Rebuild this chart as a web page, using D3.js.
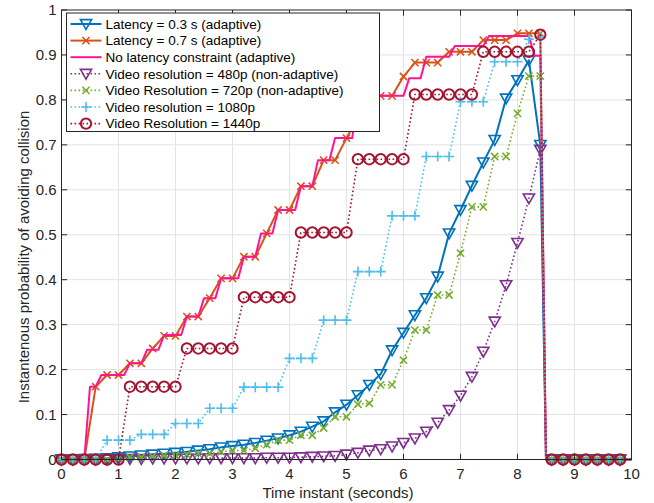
<!DOCTYPE html>
<html>
<head>
<meta charset="utf-8">
<script src="https://cdn.jsdelivr.net/npm/d3@7"></script>
<style>
  body { margin: 0; background: #fff; }
  svg { display: block; font-family: "Liberation Sans", Arial, Helvetica, sans-serif; }
</style>
</head>
<body>
<div id="chart"></div>
<script>
// Sample instants (s): one every 0.2 s, the drop at 8.5 s, then zeros up to 10 s
var times = [0, 0.2, 0.4, 0.6, 0.8, 1.0, 1.2, 1.4, 1.6, 1.8, 2.0, 2.2, 2.4, 2.6, 2.8, 3.0,
    3.2, 3.4, 3.6, 3.8, 4.0, 4.2, 4.4, 4.6, 4.8, 5.0, 5.2, 5.4, 5.6, 5.8, 6.0, 6.2, 6.4, 6.6,
    6.8, 7.0, 7.2, 7.4, 7.6, 7.8, 8.0, 8.2, 8.4, 8.5, 8.6, 8.8, 9.0, 9.2, 9.4, 9.6, 9.8, 10];
// instants that are drawn as line only (no marker)
var noMarkerTimes = [8.5, 10];

var latency03 = [0, 0, 0.001, 0.002, 0.003, 0.005, 0.007, 0.009, 0.011, 0.013, 0.015, 0.017,
    0.020, 0.023, 0.027, 0.030, 0.033, 0.037, 0.042, 0.047, 0.054, 0.062, 0.073, 0.085, 0.105,
    0.122, 0.143, 0.166, 0.190, 0.243, 0.282, 0.321, 0.359, 0.407, 0.503, 0.555, 0.609, 0.661,
    0.711, 0.803, 0.844, 0.888, 0.700, 0, 0, 0, 0, 0, 0, 0, 0, 0];
var latency07 = [0, 0, 0, 0.162, 0.188, 0.188, 0.214, 0.214, 0.247, 0.275, 0.275, 0.318,
    0.318, 0.359, 0.403, 0.403, 0.451, 0.451, 0.503, 0.555, 0.555, 0.608, 0.608, 0.666, 0.666,
    0.715, 0.760, 0.809, 0.809, 0.809, 0.852, 0.883, 0.883, 0.883, 0.907, 0.907, 0.907, 0.933,
    0.933, 0.933, 0.948, 0.948, 0.948, 0, 0, 0, 0, 0, 0, 0, 0, 0];
var res480 = [0, 0, 0, 0, 0, 0.001, 0.001, 0.001, 0.002, 0.002, 0.002, 0.002, 0.002, 0.003,
    0.003, 0.003, 0.003, 0.003, 0.004, 0.004, 0.004, 0.005, 0.006, 0.007, 0.008, 0.011, 0.015,
    0.020, 0.023, 0.029, 0.037, 0.047, 0.062, 0.082, 0.110, 0.142, 0.184, 0.240, 0.307, 0.388,
    0.482, 0.581, 0.689, 0, 0, 0, 0, 0, 0, 0, 0, 0];
var res720 = [0, 0, 0, 0, 0, 0.003, 0.005, 0.005, 0.007, 0.009, 0.009, 0.011, 0.013, 0.013,
    0.017, 0.020, 0.020, 0.025, 0.033, 0.043, 0.043, 0.054, 0.054, 0.070, 0.095, 0.095, 0.123,
    0.125, 0.166, 0.166, 0.221, 0.288, 0.288, 0.366, 0.366, 0.459, 0.562, 0.562, 0.674, 0.674,
    0.770, 0.853, 0.853, 0, 0, 0, 0, 0, 0, 0, 0, 0];
var res1080 = [0, 0, 0, 0, 0.043, 0.043, 0.043, 0.056, 0.056, 0.056, 0.080, 0.080, 0.080,
    0.114, 0.114, 0.114, 0.161, 0.161, 0.161, 0.161, 0.225, 0.225, 0.225, 0.310, 0.310, 0.310,
    0.418, 0.418, 0.418, 0.542, 0.542, 0.542, 0.674, 0.674, 0.674, 0.796, 0.796, 0.796, 0.885,
    0.885, 0.885, 0.935, 0.940, 0, 0, 0, 0, 0, 0, 0, 0, 0];
var res1440 = [0, 0, 0, 0, 0, 0, 0.162, 0.162, 0.162, 0.162, 0.162, 0.247, 0.247, 0.247,
    0.247, 0.247, 0.361, 0.361, 0.361, 0.361, 0.361, 0.505, 0.505, 0.505, 0.505, 0.505, 0.668,
    0.668, 0.668, 0.668, 0.668, 0.812, 0.812, 0.812, 0.812, 0.812, 0.812, 0.907, 0.907, 0.907,
    0.907, 0.907, 0.945, 0, 0, 0, 0, 0, 0, 0, 0, 0];

// "No latency constraint" has no markers: corners of its staircase
var noLimitTimes = [0, 0.4, 0.5, 0.6, 0.7, 1.1, 1.2, 1.4, 1.5, 1.7, 1.8, 2.1, 2.2, 2.4, 2.5,
    2.7, 2.8, 3.1, 3.2, 3.4, 3.5, 3.7, 3.8, 4.1, 4.2, 4.4, 4.5, 4.7, 4.8, 5.1, 5.2, 6.0, 6.1,
    6.3, 6.4, 6.8, 6.9, 7.4, 7.5, 8.2, 8.3, 8.4, 8.5, 10];
var noLimitValues = [0, 0, 0.162, 0.162, 0.188, 0.188, 0.214, 0.214, 0.244, 0.244, 0.277,
    0.277, 0.318, 0.318, 0.359, 0.359, 0.403, 0.403, 0.451, 0.451, 0.503, 0.503, 0.555, 0.555,
    0.608, 0.608, 0.666, 0.666, 0.715, 0.715, 0.809, 0.809, 0.848, 0.848, 0.896, 0.896, 0.920,
    0.920, 0.942, 0.942, 0.898, 0.898, 0, 0];

var legendLabels = ["Latency = 0.3 s (adaptive)", "Latency = 0.7 s (adaptive)",
    "No latency constraint (adaptive)", "Video resolution = 480p (non-adaptive)",
    "Video Resolution = 720p (non-adaptive)", "Video resolution = 1080p",
    "Video Resolution = 1440p"];
var xTicks = [0, 1, 2, 3, 4, 5, 6, 7, 8, 9, 10];
var yTicks = [0, 0.1, 0.2, 0.3, 0.4, 0.5, 0.6, 0.7, 0.8, 0.9, 1];

var series = [
    { label: legendLabels[0], t: times, v: latency03, color: "#0072BD", dash: null, marker: "tri" },
    { label: legendLabels[1], t: times, v: latency07, color: "#D95319", dash: null, marker: "x" },
    { label: legendLabels[2], t: noLimitTimes, v: noLimitValues, color: "#FF1493", dash: null, marker: null },
    { label: legendLabels[3], t: times, v: res480, color: "#7E2F8E", dash: "1.6,2.4", marker: "tri" },
    { label: legendLabels[4], t: times, v: res720, color: "#77AC30", dash: "1.6,2.4", marker: "x" },
    { label: legendLabels[5], t: times, v: res1080, color: "#4DBEEE", dash: "1.6,2.4", marker: "plus" },
    { label: legendLabels[6], t: times, v: res1440, color: "#A2142F", dash: "1.6,2.4", marker: "circle" }
];

var W = 654, H = 503;
var plot = { left: 61.5, right: 631.5, top: 10, bottom: 459.5 };

var svg = d3.select("#chart").append("svg")
    .attr("width", W)
    .attr("height", H);

var x = d3.scaleLinear().domain([0, 10]).range([plot.left, plot.right]);
var y = d3.scaleLinear().domain([0, 1]).range([plot.bottom, plot.top]);

// Grid lines
svg.append("g").selectAll("line")
    .data(xTicks.slice(1, -1))
    .enter().append("line")
    .attr("x1", d => x(d)).attr("x2", d => x(d))
    .attr("y1", plot.top).attr("y2", plot.bottom)
    .attr("stroke", "#e3e3e3").attr("stroke-width", 1);
svg.append("g").selectAll("line")
    .data(yTicks.slice(1, -1))
    .enter().append("line")
    .attr("x1", plot.left).attr("x2", plot.right)
    .attr("y1", d => y(d)).attr("y2", d => y(d))
    .attr("stroke", "#e3e3e3").attr("stroke-width", 1);

// Marker shapes
function markerPath(kind) {
    if (kind === "tri") return "M-5.6,-4.4L5.6,-4.4L0,5.4Z";
    if (kind === "x") return "M-3.6,-3.6L3.6,3.6M-3.6,3.6L3.6,-3.6";
    if (kind === "plus") return "M-5,0L5,0M0,-5L0,5";
    if (kind === "circle") return "M5.2,0A5.2,5.2 0 1 1 -5.2,0A5.2,5.2 0 1 1 5.2,0Z";
    return "";
}

var line = d3.line()
    .x(d => x(d[0]))
    .y(d => y(d[1]));

// Draw each series: line then markers
series.forEach(function(s) {
    var pts = s.t.map((t, i) => [t, s.v[i]]);
    var g = svg.append("g");
    g.append("path")
        .datum(pts)
        .attr("d", line)
        .attr("fill", "none")
        .attr("stroke", s.color)
        .attr("stroke-width", s.dash ? 1.6 : 2)
        .attr("stroke-dasharray", s.dash)
        .attr("stroke-linejoin", "round");
    if (s.marker) {
        g.selectAll("path.mk")
            .data(pts.filter(d => noMarkerTimes.indexOf(d[0]) < 0))
            .enter().append("path")
            .attr("class", "mk")
            .attr("d", markerPath(s.marker))
            .attr("transform", d => "translate(" + x(d[0]) + "," + y(d[1]) + ")")
            .attr("fill", "none")
            .attr("stroke", s.color)
            .attr("stroke-width", s.marker === "circle" ? 2 : 1.6);
    }
});

// Axes box with inward ticks on all four sides
var axisColor = "#262626";
var tickLen = 5.7;
svg.append("rect")
    .attr("x", plot.left).attr("y", plot.top)
    .attr("width", plot.right - plot.left).attr("height", plot.bottom - plot.top)
    .attr("fill", "none").attr("stroke", axisColor).attr("stroke-width", 1);

var ticks = svg.append("g").attr("stroke", axisColor).attr("stroke-width", 1);
xTicks.forEach(function(d) {
    ticks.append("line").attr("x1", x(d)).attr("x2", x(d)).attr("y1", plot.bottom).attr("y2", plot.bottom - tickLen);
    ticks.append("line").attr("x1", x(d)).attr("x2", x(d)).attr("y1", plot.top).attr("y2", plot.top + tickLen);
});
yTicks.forEach(function(d) {
    ticks.append("line").attr("y1", y(d)).attr("y2", y(d)).attr("x1", plot.left).attr("x2", plot.left + tickLen);
    ticks.append("line").attr("y1", y(d)).attr("y2", y(d)).attr("x1", plot.right).attr("x2", plot.right - tickLen);
});

// Tick labels
svg.append("g").selectAll("text")
    .data(xTicks)
    .enter().append("text")
    .attr("x", d => x(d))
    .attr("y", plot.bottom + 19)
    .attr("text-anchor", "middle")
    .attr("font-size", "15px")
    .attr("fill", axisColor)
    .text(d => d);
svg.append("g").selectAll("text")
    .data(yTicks)
    .enter().append("text")
    .attr("x", plot.left - 5)
    .attr("y", d => y(d) + 5)
    .attr("text-anchor", "end")
    .attr("font-size", "15px")
    .attr("fill", axisColor)
    .text(d => d);

// Axis labels (placed where the reference has them, a bit off-centre)
svg.append("text")
    .attr("x", 338)
    .attr("y", plot.bottom + 38)
    .attr("text-anchor", "middle")
    .attr("font-size", "15px")
    .attr("fill", axisColor)
    .text("Time instant (seconds)");
svg.append("text")
    .attr("transform", "translate(29,257) rotate(-90)")
    .attr("text-anchor", "middle")
    .attr("font-size", "15px")
    .attr("fill", axisColor)
    .text("Instantenous probability of avoiding collision");

// Legend
var legend = svg.append("g").attr("transform", "translate(66.5,13)");
legend.append("rect")
    .attr("width", 313).attr("height", 118.5)
    .attr("fill", "#fff").attr("stroke", axisColor).attr("stroke-width", 1);
series.forEach(function(s, i) {
    var cy = 11 + i * 16.6;
    legend.append("line")
        .attr("x1", 4).attr("x2", 35).attr("y1", cy).attr("y2", cy)
        .attr("stroke", s.color)
        .attr("stroke-width", s.dash ? 1.6 : 2)
        .attr("stroke-dasharray", s.dash);
    if (s.marker) {
        legend.append("path")
            .attr("d", markerPath(s.marker))
            .attr("transform", "translate(19.5," + cy + ")")
            .attr("fill", "none")
            .attr("stroke", s.color)
            .attr("stroke-width", s.marker === "circle" ? 2 : 1.6);
    }
    legend.append("text")
        .attr("x", 39).attr("y", cy + 4.8)
        .attr("font-size", "13.5px")
        .attr("fill", "#000")
        .text(s.label);
});
</script>
</body>
</html>
